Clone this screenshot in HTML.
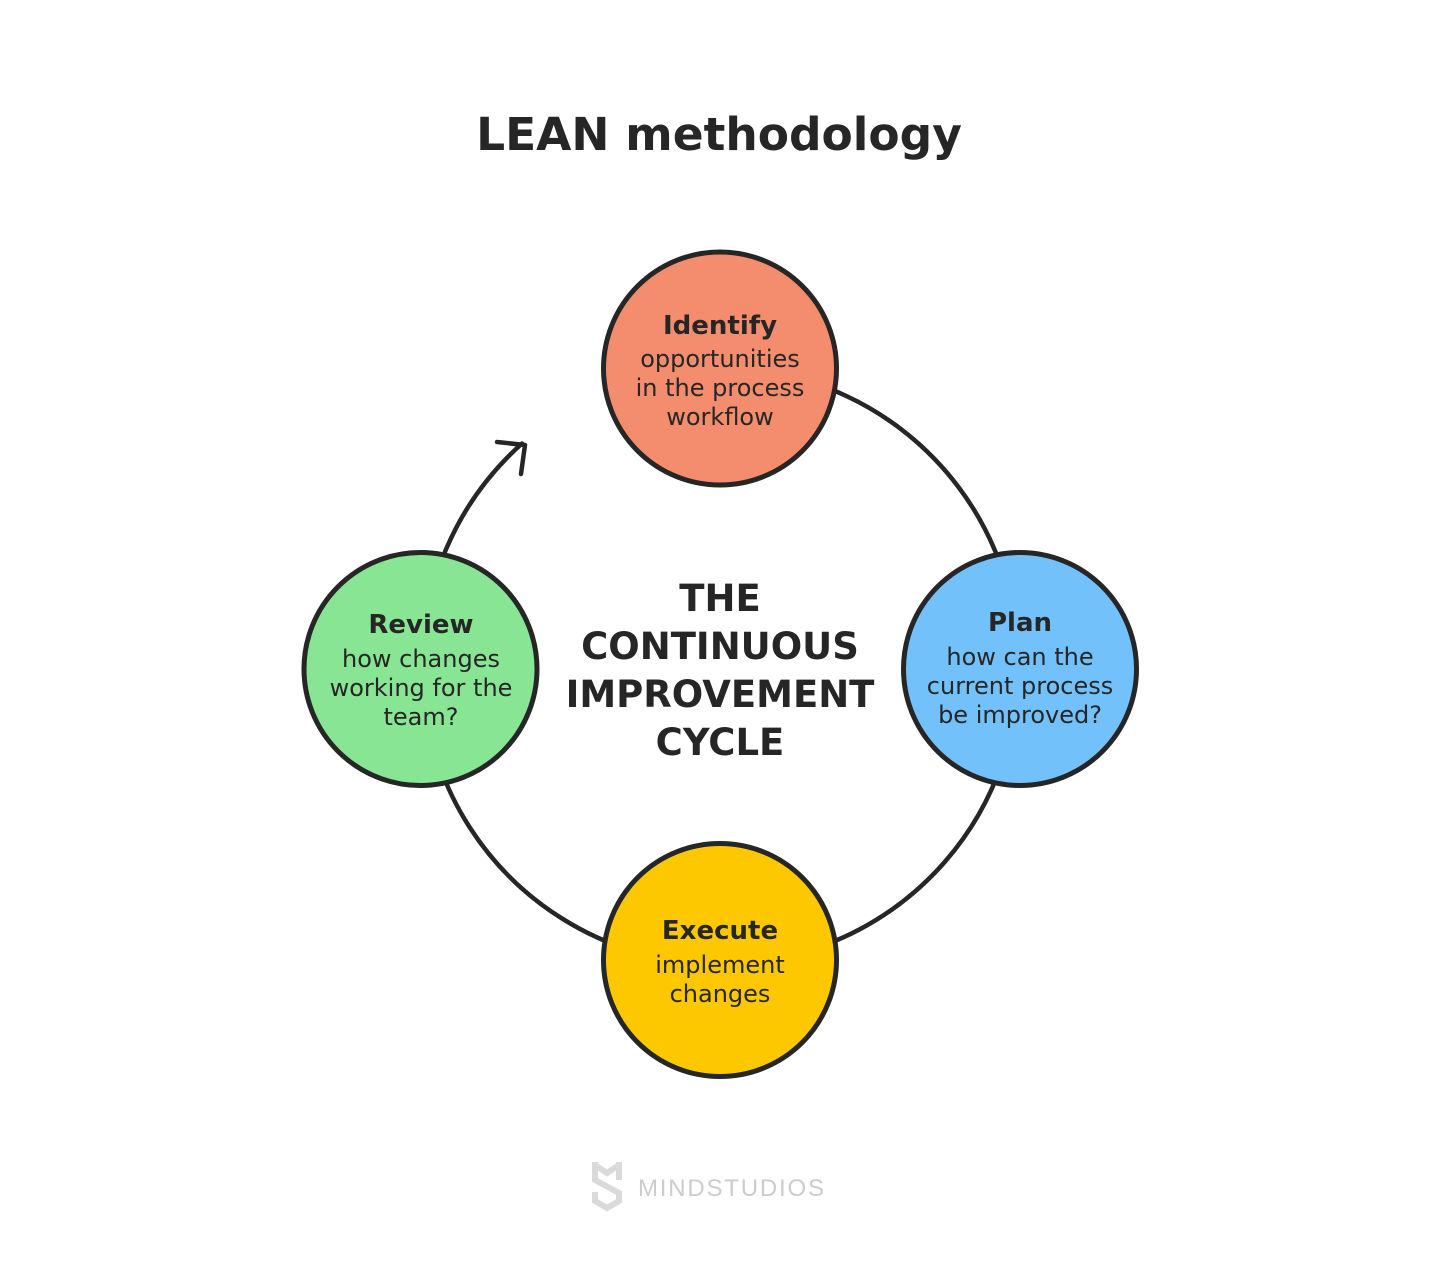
<!DOCTYPE html>
<html>
<head>
<meta charset="utf-8">
<style>
  html,body{margin:0;padding:0;background:#fff;}
  body{width:1440px;height:1270px;overflow:hidden;}
  svg{display:block;}
  .t{font-family:"DejaVu Sans","Liberation Sans",sans-serif;fill:#262626;text-anchor:middle;}
  .b{font-weight:bold;}
</style>
</head>
<body>
<svg width="1440" height="1270" viewBox="0 0 1440 1270" xmlns="http://www.w3.org/2000/svg">
  <rect width="1440" height="1270" fill="#ffffff"/>

  <!-- Title -->
  <text class="t b" x="719" y="150" font-size="45.5">LEAN methodology</text>

  <!-- Ring with gap and arrow -->
  <path d="M 720 368 A 298 298 0 1 1 522 443.5" fill="none" stroke="#262626" stroke-width="4.5" stroke-linecap="round"/>
  <polyline points="497,442 525,445 521,474" fill="none" stroke="#262626" stroke-width="4.5" stroke-linecap="round" stroke-linejoin="round"/>

  <!-- Circles -->
  <circle cx="720" cy="368.5" r="116.5" fill="#F38D6E" stroke="#262626" stroke-width="5"/>
  <circle cx="1020" cy="669" r="116.5" fill="#73C1FA" stroke="#262626" stroke-width="5"/>
  <circle cx="720" cy="960" r="116.5" fill="#FDC800" stroke="#262626" stroke-width="5"/>
  <circle cx="420.5" cy="669" r="116.5" fill="#88E594" stroke="#262626" stroke-width="5"/>

  <!-- Identify -->
  <text class="t b" x="720" y="334" font-size="26">Identify</text>
  <text class="t" x="720" y="367" font-size="24">opportunities</text>
  <text class="t" x="720" y="396" font-size="24">in the process</text>
  <text class="t" x="720" y="425" font-size="24">workflow</text>

  <!-- Plan -->
  <text class="t b" x="1020" y="631" font-size="26">Plan</text>
  <text class="t" x="1020" y="665" font-size="24">how can the</text>
  <text class="t" x="1020" y="694" font-size="24">current process</text>
  <text class="t" x="1020" y="723" font-size="24">be improved?</text>

  <!-- Execute -->
  <text class="t b" x="720" y="939" font-size="26">Execute</text>
  <text class="t" x="720" y="973" font-size="24">implement</text>
  <text class="t" x="720" y="1002" font-size="24">changes</text>

  <!-- Review -->
  <text class="t b" x="421" y="633" font-size="26">Review</text>
  <text class="t" x="421" y="667" font-size="24">how changes</text>
  <text class="t" x="421" y="696" font-size="24">working for the</text>
  <text class="t" x="421" y="725" font-size="24">team?</text>

  <!-- Center text -->
  <text class="t b" x="720" y="611" font-size="37">THE</text>
  <text class="t b" x="720" y="659" font-size="37">CONTINUOUS</text>
  <text class="t b" x="720" y="707" font-size="37">IMPROVEMENT</text>
  <text class="t b" x="720" y="755" font-size="37">CYCLE</text>

  <!-- Logo -->
  <g fill="none" stroke="#dadada" stroke-width="6" stroke-linejoin="miter" stroke-linecap="butt">
    <polyline points="595,1162 595,1180 619,1193 619,1201 607,1208 595,1201 595,1192"/>
    <polyline points="595,1165 607,1173 619,1165"/>
    <polyline points="619,1162 619,1180"/>
  </g>
  <text x="638" y="1196" font-family="Liberation Sans, sans-serif" font-size="24" fill="#cccccc" letter-spacing="1.8">MINDSTUDIOS</text>
</svg>
</body>
</html>
